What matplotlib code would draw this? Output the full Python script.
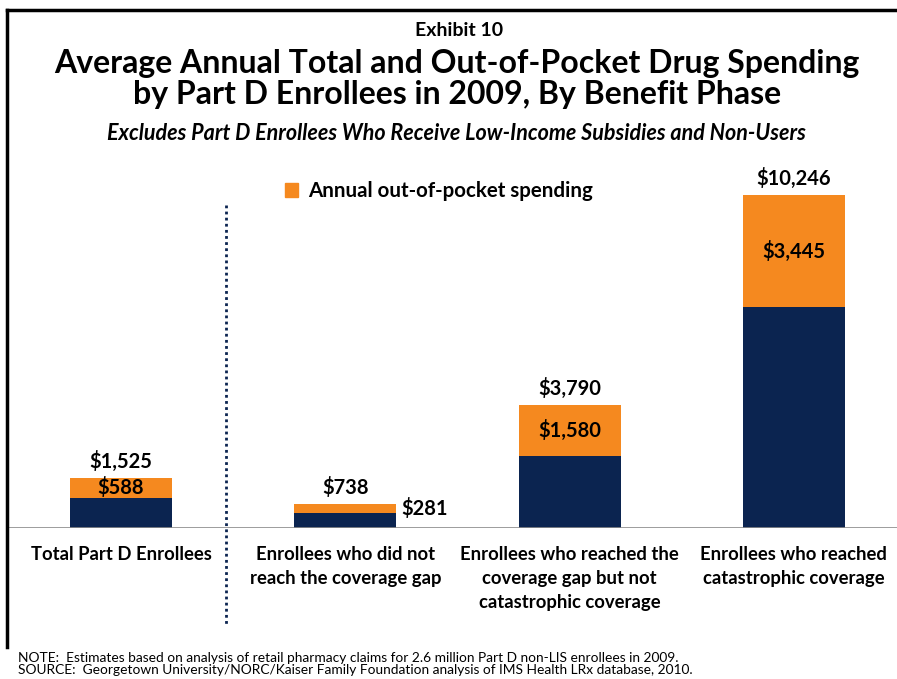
import matplotlib.pyplot as plt
from matplotlib.lines import Line2D
from matplotlib.patches import Patch

# data
categories = ['Total Part D Enrollees',
              'Enrollees who did not\nreach the coverage gap',
              'Enrollees who reached the\ncoverage gap but not\ncatastrophic coverage',
              'Enrollees who reached\ncatastrophic coverage']
total_spending = [1525, 738, 3790, 10246]
oop_spending = [588, 281, 1580, 3445]
other_spending = [t - o for t, o in zip(total_spending, oop_spending)]

navy = '#0b2450'
orange = '#f5891f'
plt.rcParams['font.family'] = ['Lato', 'DejaVu Sans']

W, H = 897, 679
fig = plt.figure(figsize=(W / 100, H / 100), dpi=100)

# axes placed so baseline sits at y=528px, bars centred at 121..794px
px_per_unit = 224.3
x0_px = 121
left_px, right_px = 7, 897
base_px = 528
px_per_dollar = 333 / 10246
ymax = 12000
ax = fig.add_axes([left_px / W, 1 - base_px / H, (right_px - left_px) / W,
                   ymax * px_per_dollar / H])
ax.set_xlim((left_px - x0_px) / px_per_unit, (right_px - x0_px) / px_per_unit)
ax.set_ylim(0, ymax)
ax.axis('off')

xs = list(range(len(categories)))
bw = 102 / px_per_unit
ax.bar(xs, other_spending, width=bw, color=navy)
ax.bar(xs, oop_spending, width=bw, bottom=other_spending, color=orange)
ax.axhline(0, color='#8c8c8c', lw=1.2)

for i, (t, o, b) in enumerate(zip(total_spending, oop_spending, other_spending)):
    ax.annotate(f'${t:,}', (i, t), xytext=(0, 12), textcoords='offset points',
                ha='center', va='center', fontsize=14.5, fontweight='bold')
    if i == 1:
        ax.annotate(f'${o:,}', (i + bw / 2, b + o / 2), xytext=(4, 0),
                    textcoords='offset points', ha='left', va='center',
                    fontsize=14.5, fontweight='bold')
    else:
        ax.text(i, b + o / 2, f'${o:,}', ha='center', va='center',
                fontsize=14.5, fontweight='bold')
    ax.annotate(categories[i], (i, 0), xytext=(0, -13), textcoords='offset points',
                ha='center', va='top', fontsize=13.3, fontweight='bold',
                linespacing=1.5, annotation_clip=False)

# dotted divider
fig.add_artist(Line2D([226 / W, 226 / W], [1 - 205 / H, 1 - 625 / H],
                      color=navy, lw=2, ls=(0, (1, 1.2))))

# frame lines (top and left)
fig.add_artist(Line2D([7 / W, 1], [1 - 10 / H, 1 - 10 / H], color='black', lw=2.5))
fig.add_artist(Line2D([7 / W, 7 / W], [1 - 10 / H, 1 - 647 / H], color='black', lw=2.5))

# titles
fig.text(459 / W, 1 - 30 / H, 'Exhibit 10', ha='center', va='center',
         fontsize=14, fontweight='bold')
fig.text(457 / W, 1 - 79 / H,
         'Average Annual Total and Out-of-Pocket Drug Spending\nby Part D Enrollees in 2009, By Benefit Phase',
         ha='center', va='center', fontsize=23, fontweight='bold', linespacing=1.12)
fig.text(456 / W, 1 - 133 / H,
         'Excludes Part D Enrollees Who Receive Low-Income Subsidies and Non-Users',
         ha='center', va='center', fontsize=15.5, fontweight='bold', style='italic')

fig.legend(handles=[Patch(color=orange, label='Annual out-of-pocket spending')],
           loc='center left', bbox_to_anchor=(285 / W, 1 - 191 / H), frameon=False,
           prop={'size': 14.8, 'weight': 'bold'}, handlelength=0.65, handleheight=0.65,
           handletextpad=0.45, borderpad=0, borderaxespad=0)

fig.text(18 / W, 1 - 664 / H,
         'NOTE:  Estimates based on analysis of retail pharmacy claims for 2.6 million Part D non-LIS enrollees in 2009.\n'
         'SOURCE:  Georgetown University/NORC/Kaiser Family Foundation analysis of IMS Health LRx database, 2010.',
         ha='left', va='center', fontsize=9.9, linespacing=1.0)

fig.savefig('out.png', dpi=100)
